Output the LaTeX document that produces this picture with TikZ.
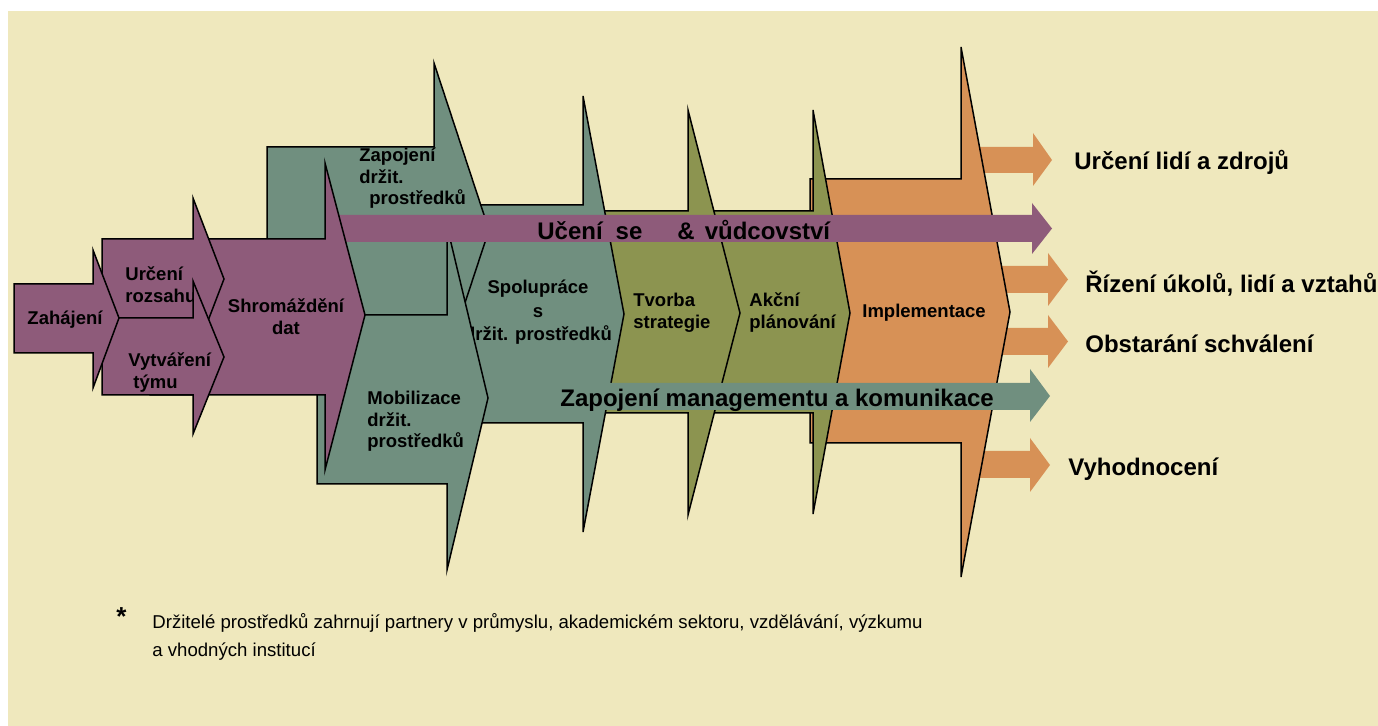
\documentclass[tikz,border=0pt]{standalone}
\usepackage{fontspec}
\setmainfont{Liberation Sans}
\definecolor{paper}{RGB}{239,232,189}
\definecolor{plum}{RGB}{142,91,122}
\definecolor{sage}{RGB}{112,143,127}
\definecolor{olive}{RGB}{140,148,80}
\definecolor{apricot}{RGB}{215,145,86}
\begin{document}
\begin{tikzpicture}[x=0.5pt,y=-0.5pt,
  stage/.style={draw=black,line width=0.75pt,line join=miter},
  flow/.style={draw=none},
  stagetext/.style={inner sep=0pt,text=black,font=\bfseries\fontsize{9.25pt}{10.75pt}\selectfont},
  bigtext/.style={inner sep=0pt,text=black,anchor=base west,font=\bfseries\fontsize{12pt}{14pt}\selectfont},
  notetext/.style={inner sep=0pt,text=black,align=left,font=\fontsize{9.3pt}{14pt}\selectfont}]
\useasboundingbox (0,0) rectangle (1378,726);
\fill[white] (0,0) rectangle (1378,726);
\fill[paper] (8,11) rectangle (1378,726);

% outcome arrows leaving the implementation stage
\fill[apricot,flow] (975,147) -- (1033,147) -- (1033,133) -- (1052,160) -- (1033,186) -- (1033,173) -- (975,173) -- cycle;
\fill[apricot,flow] (995,266) -- (1048,266) -- (1048,253) -- (1068,279.5) -- (1048,306) -- (1048,293) -- (995,293) -- cycle;
\fill[apricot,flow] (995,328) -- (1048,328) -- (1048,315) -- (1068,341.5) -- (1048,368) -- (1048,355) -- (995,355) -- cycle;
\fill[apricot,flow] (975,451) -- (1030,451) -- (1030,438) -- (1050,465) -- (1030,492) -- (1030,478) -- (975,478) -- cycle;

% implementation
\filldraw[apricot,stage] (810,179) -- (961,179) -- (961,47) -- (1010,312) -- (961,577) -- (961,443) -- (810,443) -- cycle;
\node[stagetext,anchor=base west] (impl) at (862,318) {Implementace};

% action planning
\filldraw[olive,stage] (700,211) -- (813,211) -- (813,110) -- (850,313) -- (813,514) -- (813,413) -- (700,413) -- cycle;
\node[stagetext,anchor=base west,align=left] (plan) at (749,328.5) {Akční\\plánování};

% strategy
\filldraw[olive,stage] (595,211) -- (688,211) -- (688,110) -- (740,313) -- (688,515) -- (688,413) -- (595,413) -- cycle;
\node[stagetext,anchor=base west,align=left] (strat) at (633,328.5) {Tvorba\\strategie};

% cooperation
\filldraw[sage,stage] (460,205) -- (583,205) -- (583,96) -- (624,314) -- (583,532) -- (583,423) -- (460,423) -- cycle;
\node[stagetext,anchor=base,align=center] (coop) at (538,341) {Spolupráce\\[1.2pt]s\\[1.2pt]držit. prostředků};

% engaging stakeholders
\filldraw[sage,stage] (267,147) -- (434,147) -- (434,63) -- (489,230) -- (434,397) -- (434,315) -- (267,315) -- cycle;
\node[stagetext,anchor=base west,align=left] (engage) at (359,205) {Zapojení\\držit.\\\hspace*{5pt}prostředků};

% mobilising stakeholders
\filldraw[sage,stage] (317,315) -- (447,315) -- (447,226) -- (488,398) -- (447,570) -- (447,484) -- (317,484) -- cycle;
\node[stagetext,anchor=base west,align=left] (mobil) at (367,448) {Mobilizace\\držit.\\prostředků};

% cross-cutting bands
\fill[plum,flow] (338,215) -- (1032,215) -- (1032,203) -- (1052,228.5) -- (1032,254) -- (1032,242) -- (338,242) -- cycle;
\node[bigtext] (lead) at (537,240) {Učení\hspace*{6.5pt}se\hspace*{17.5pt}\&\hspace*{5pt}vůdcovství};
\fill[sage,flow] (555,383) -- (1030,383) -- (1030,369) -- (1050,396) -- (1030,422) -- (1030,410) -- (555,410) -- cycle;
\node[bigtext] (mgmt) at (560,407) {Zapojení managementu a komunikace};

% data gathering
\filldraw[plum,stage] (150,239) -- (325,239) -- (325,163) -- (365,315) -- (325,470) -- (325,395) -- (150,395) -- cycle;
\node[stagetext,anchor=base,align=center] (data) at (286,334.5) {Shromáždění\\dat};

% scope and team
\filldraw[plum,stage] (102,239) -- (193,239) -- (193,198) -- (224,279) -- (193,360) -- (193,318) -- (102,318) -- cycle;
\node[stagetext,anchor=base west,align=left] (scope) at (125,302.5) {Určení\\rozsahu};
\filldraw[plum,stage] (102,318) -- (193,318) -- (193,281) -- (224,357) -- (193,434) -- (193,395) -- (102,395) -- cycle;
\node[stagetext,anchor=base west,align=left] (team) at (128,388.5) {Vytváření\\\hspace*{2.5pt}týmu};

% start
\filldraw[plum,stage] (14,284) -- (93,284) -- (93,250) -- (119,318) -- (93,388) -- (93,353) -- (14,353) -- cycle;
\node[stagetext,anchor=base] (start) at (65,325) {Zahájení};

% outcomes
\node[bigtext] (res1) at (1074,170) {Určení lidí a zdrojů};
\node[bigtext] (res2) at (1085,293) {Řízení úkolů, lidí a vztahů};
\node[bigtext] (res3) at (1085,353) {Obstarání schválení};
\node[bigtext] (res4) at (1068,476) {Vyhodnocení};

% footnote
\node[inner sep=0pt,anchor=base,font=\bfseries\fontsize{13pt}{14pt}\selectfont] (star) at (121.5,626) {*};
\node[notetext,anchor=base west] (note) at (152,657) {Držitelé prostředků zahrnují partnery v průmyslu, akademickém sektoru, vzdělávání, výzkumu\\a vhodných institucí};
\end{tikzpicture}
\end{document}
